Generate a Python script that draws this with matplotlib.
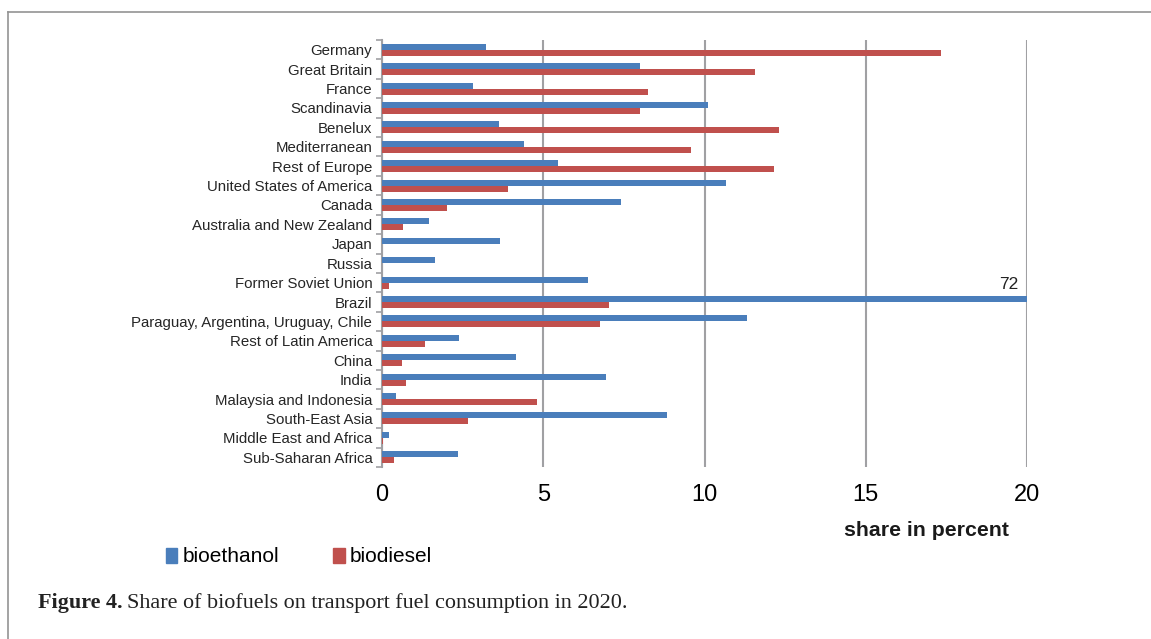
import matplotlib.pyplot as plt
from matplotlib.patches import Patch
from matplotlib.lines import Line2D
import numpy as np

regions = ['Germany', 'Great Britain', 'France', 'Scandinavia', 'Benelux',
           'Mediterranean', 'Rest of Europe', 'United States of America', 'Canada',
           'Australia and New Zealand', 'Japan', 'Russia', 'Former Soviet Union',
           'Brazil', 'Paraguay, Argentina, Uruguay, Chile', 'Rest of Latin America',
           'China', 'India', 'Malaysia and Indonesia', 'South-East Asia',
           'Middle East and Africa', 'Sub-Saharan Africa']

bioethanol = [3.24, 7.99, 2.82, 10.11, 3.64, 4.40, 5.46, 10.67, 7.41, 1.46, 3.65,
              1.65, 6.38, 72.0, 11.33, 2.40, 4.14, 6.94, 0.42, 8.85, 0.21, 2.35]
biodiesel = [17.32, 11.56, 8.24, 8.00, 12.32, 9.57, 12.15, 3.90, 2.00, 0.65, 0.0,
             0.0, 0.22, 7.03, 6.77, 1.33, 0.63, 0.74, 4.81, 2.66, 0.02, 0.36]

series_names = ['bioethanol', 'biodiesel']
BLUE = '#4A7EBB'
RED = '#C0504D'
GRID = '#A0A0A3'

plt.rcParams['font.family'] = ['Liberation Sans', 'DejaVu Sans']

fig = plt.figure(figsize=(11.51, 6.39), dpi=100, facecolor='white')
ax = fig.add_axes([382 / 1151, 1 - 467 / 639, (1027 - 382) / 1151, (467 - 40) / 639])

y = np.arange(len(regions))
h = 0.31
ax.barh(y - h / 2, bioethanol, height=h, color=BLUE, edgecolor='none', zorder=3)
ax.barh(y + h / 2, biodiesel, height=h, color=RED, edgecolor='none', zorder=3)

ax.set_xlim(0, 20)
ax.set_ylim(len(regions) - 0.5, -0.5)

# Brazil is off the scale
bi = regions.index('Brazil')
ax.text(19.72, bi - 0.5, f'{bioethanol[bi]:.0f}', ha='right', va='bottom',
        fontsize=12.5, color='#222222')

ax.set_xticks([0, 5, 10, 15, 20])
ax.tick_params(axis='x', length=0, pad=12, labelsize=17, labelcolor='black')
ax.set_yticks(y)
ax.set_yticklabels(regions)
ax.set_yticks(np.arange(len(regions) + 1) - 0.5, minor=True)
ax.tick_params(axis='y', which='major', length=0, pad=7, labelsize=10.8, labelcolor='#262626')
ax.tick_params(axis='y', which='minor', length=4, width=1.2, color=GRID, direction='out')

ax.grid(axis='x', color=GRID, lw=1.5, zorder=0)
for s in ['top', 'right', 'bottom']:
    ax.spines[s].set_visible(False)
ax.spines['left'].set_color(GRID)
ax.spines['left'].set_linewidth(1.5)

fig.text(926 / 1151, 1 - 531 / 639, 'share in percent', ha='center', va='center',
         fontsize=15.3, fontweight='bold', color='#1a1a1a')

handles = [Patch(color=BLUE), Patch(color=RED)]
fig.legend(handles, series_names, loc='center left',
           bbox_to_anchor=(147 / 1151, 1 - 557 / 639), ncol=2, frameon=False,
           fontsize=15, handlelength=0.55, handleheight=0.75, handletextpad=0.25,
           columnspacing=2.6)

# caption
cap1 = fig.text(38 / 1151, 1 - 603 / 639, 'Figure 4.', ha='left', va='center',
                fontsize=15.9, fontweight='bold', family=['Liberation Serif'],
                color='#222222')
fig.canvas.draw()
bb = cap1.get_window_extent()
x2 = fig.transFigure.inverted().transform((bb.x1 + 4, 0))[0]
fig.text(x2, 1 - 603 / 639, 'Share of biofuels on transport fuel consumption in 2020.',
         ha='left', va='center', fontsize=15.9, family=['Liberation Serif'], color='#222222')

# outer frame (top and left edges visible)
fig.add_artist(Line2D([8 / 1151, 1.0], [1 - 12 / 639, 1 - 12 / 639],
                      transform=fig.transFigure, color='#939393', lw=1.2))
fig.add_artist(Line2D([8 / 1151, 8 / 1151], [1 - 12 / 639, 0.0],
                      transform=fig.transFigure, color='#939393', lw=1.2))

fig.savefig('out.png', dpi=100, facecolor='white')
